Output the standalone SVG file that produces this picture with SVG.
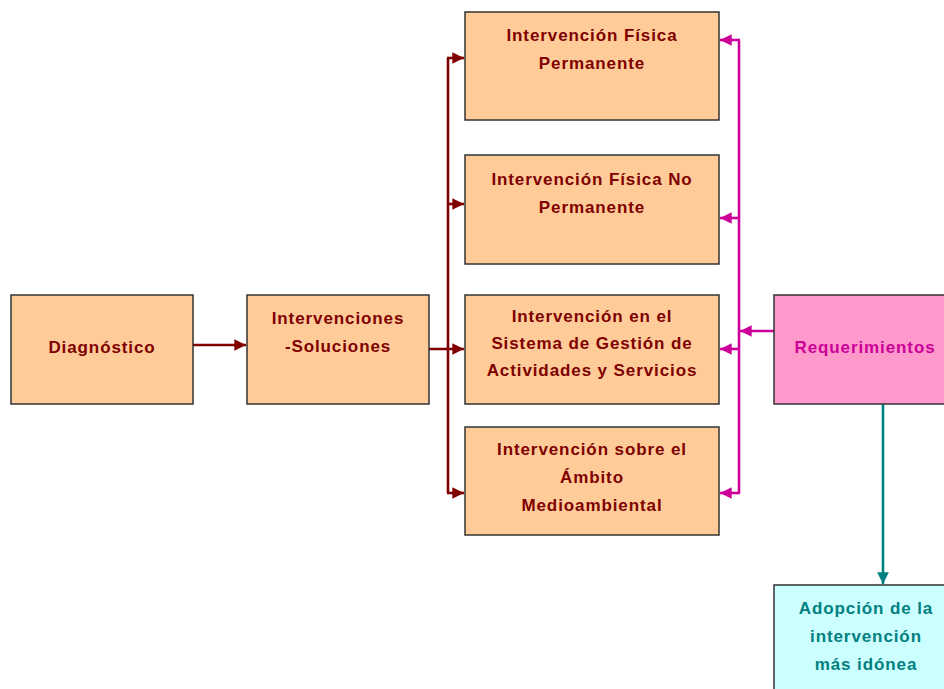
<svg xmlns="http://www.w3.org/2000/svg" width="944" height="689" viewBox="0 0 944 689">
<defs>
<style>
.b{fill:#FFCC99;stroke:#333;stroke-width:1.5}
.r{fill:#FF99CC;stroke:#333;stroke-width:1.5}
.c{fill:#CCFFFF;stroke:#333;stroke-width:1.5}
text{font-family:"Liberation Sans",Arial,sans-serif;font-weight:bold;font-size:17px;letter-spacing:0.9px;text-anchor:middle;dominant-baseline:central}
.tm{fill:#800000}
.tp{fill:#CC0099}
.tt{fill:#008080}
.lm{stroke:#800000;stroke-width:2.6;fill:none}
.lp{stroke:#CC0099;stroke-width:2.6;fill:none}
.lt{stroke:#008080;stroke-width:2.6;fill:none}
</style>
<marker id="am" viewBox="0 0 10 10" refX="10" refY="5" markerWidth="4.5" markerHeight="4.5" orient="auto" markerUnits="strokeWidth"><path d="M0,0L10,5L0,10z" fill="#800000"/></marker>
<marker id="ap" viewBox="0 0 10 10" refX="10" refY="5" markerWidth="4.5" markerHeight="4.5" orient="auto" markerUnits="strokeWidth"><path d="M0,0L10,5L0,10z" fill="#CC0099"/></marker>
<marker id="at" viewBox="0 0 10 10" refX="10" refY="5" markerWidth="4.5" markerHeight="4.5" orient="auto" markerUnits="strokeWidth"><path d="M0,0L10,5L0,10z" fill="#008080"/></marker>
</defs>
<rect width="944" height="689" fill="#fff"/>
<g id="connectors">
<line class="lm" x1="193" y1="345" x2="246" y2="345" marker-end="url(#am)"/>
<line class="lm" x1="429" y1="349" x2="464" y2="349" marker-end="url(#am)"/>
<line class="lm" x1="448" y1="58" x2="448" y2="493"/>
<line class="lm" x1="447" y1="58" x2="464" y2="58" marker-end="url(#am)"/>
<line class="lm" x1="448" y1="204" x2="464" y2="204" marker-end="url(#am)"/>
<line class="lm" x1="447" y1="493" x2="464" y2="493" marker-end="url(#am)"/>
<line class="lp" x1="739" y1="40" x2="739" y2="493"/>
<line class="lp" x1="740" y1="40" x2="720" y2="40" marker-end="url(#ap)"/>
<line class="lp" x1="739" y1="218" x2="720" y2="218" marker-end="url(#ap)"/>
<line class="lp" x1="739" y1="349" x2="720" y2="349" marker-end="url(#ap)"/>
<line class="lp" x1="740" y1="493" x2="720" y2="493" marker-end="url(#ap)"/>
<line class="lp" x1="774" y1="331" x2="740" y2="331" marker-end="url(#ap)"/>
<line class="lt" x1="883" y1="404" x2="883" y2="584" marker-end="url(#at)"/>
</g>
<g id="diagnostico"><rect class="b" x="11" y="295" width="182" height="109"/><text class="tm" x="102" y="347">Diagnóstico</text></g>
<g id="intervenciones"><rect class="b" x="247" y="295" width="182" height="109"/><text class="tm" x="338" y="318">Intervenciones</text><text class="tm" x="338" y="346">-Soluciones</text></g>
<g id="fisica-permanente"><rect class="b" x="465" y="12" width="254" height="108"/><text class="tm" x="592" y="35">Intervención Física</text><text class="tm" x="592" y="63">Permanente</text></g>
<g id="fisica-no-permanente"><rect class="b" x="465" y="155" width="254" height="109"/><text class="tm" x="592" y="179">Intervención Física No</text><text class="tm" x="592" y="207">Permanente</text></g>
<g id="gestion"><rect class="b" x="465" y="295" width="254" height="109"/><text class="tm" x="592" y="316">Intervención en el</text><text class="tm" x="592" y="343">Sistema de Gestión de</text><text class="tm" x="592" y="370">Actividades y Servicios</text></g>
<g id="ambito"><rect class="b" x="465" y="427" width="254" height="108"/><text class="tm" x="592" y="449">Intervención sobre el</text><text class="tm" x="592" y="477">Ámbito</text><text class="tm" x="592" y="505">Medioambiental</text></g>
<g id="requerimientos"><rect class="r" x="774" y="295" width="184" height="109"/><text class="tp" x="865" y="347">Requerimientos</text></g>
<g id="adopcion"><rect class="c" x="774" y="585" width="184" height="120"/><text class="tt" x="866" y="608">Adopción de la</text><text class="tt" x="866" y="636">intervención</text><text class="tt" x="866" y="664">más idónea</text></g>
</svg>
